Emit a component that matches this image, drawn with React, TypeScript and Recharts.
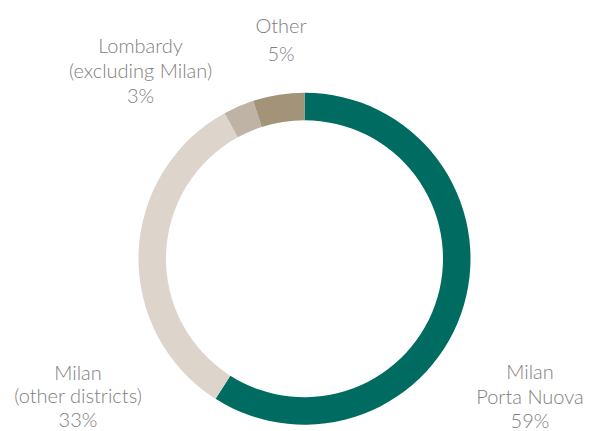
import React from "react";
import { PieChart, Pie, Cell } from "recharts";

const categories = ["Milan Porta Nuova", "Milan (other districts)", "Lombardy (excluding Milan)", "Other"];
const shares = [59, 33, 3, 5];
const labelLines = [
  ["Milan", "Porta Nuova", "59%"],
  ["Milan", "(other districts)", "33%"],
  ["Lombardy", "(excluding Milan)", "3%"],
  ["Other", "5%"],
];

const colors = ["#006b60", "#ddd5cc", "#bfb3a5", "#a39479"];
// label anchor offsets from pie centre (first baseline)
const labelOffsets = [
  [225.5, 120.5],
  [-226.5, 121],
  [-164, -205.5],
  [-23.5, -225.5],
];
const lineGaps = [24.5, 23.5, 25, 28];

const data = categories.map((name, i) => ({ name, value: shares[i] }));

const renderLabel = (props: any) => {
  const { cx, cy, index } = props;
  const [dx, dy] = labelOffsets[index];
  const lines = labelLines[index];
  return (
    <text
      x={cx + dx}
      y={cy + dy}
      textAnchor="middle"
      fill="#808080"
      fontFamily="Lato, 'Open Sans', sans-serif"
      fontWeight={300}
      fontSize={20}
    >
      {lines.map((l, i) => (
        <tspan key={i} x={cx + dx} dy={i === 0 ? 0 : lineGaps[index]}>
          {l}
        </tspan>
      ))}
    </text>
  );
};

export default function App() {
  return (
    <div style={{ position: "absolute", left: 0, top: 0, width: 591, height: 431, background: "#fff" }}>
      <PieChart width={591} height={431} margin={{ top: 0, right: 0, bottom: 0, left: 0 }}>
        <Pie
          data={data}
          dataKey="value"
          nameKey="name"
          cx={304.5}
          cy={258.7}
          innerRadius={138.5}
          outerRadius={166}
          startAngle={90}
          endAngle={-270}
          stroke="none"
          label={renderLabel}
          labelLine={false}
          isAnimationActive={false}
        >
          {data.map((d, i) => (
            <Cell key={d.name} fill={colors[i]} />
          ))}
        </Pie>
      </PieChart>
    </div>
  );
}
